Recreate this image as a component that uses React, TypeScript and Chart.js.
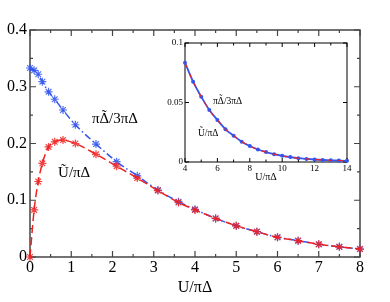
import React, { useEffect, useRef } from "react";
import { Chart, registerables } from "chart.js";

Chart.register(...registerables);

// ---- main panel data ----
const mainU = [0, 0.1, 0.2, 0.3, 0.45, 0.6, 0.8, 1.1, 1.6, 2.1, 2.6, 3.1, 3.6, 4, 4.5, 5, 5.5, 6, 6.5, 7, 7.5, 8];
const deltaRatio = [0.333, 0.329, 0.322, 0.309, 0.291, 0.278, 0.259, 0.233, 0.199, 0.168, 0.143, 0.118, 0.0975, 0.084, 0.068, 0.055, 0.0446, 0.0347, 0.0287, 0.0224, 0.018, 0.014];
const uRatio = [0, 0.083, 0.133, 0.165, 0.194, 0.203, 0.206, 0.2, 0.181, 0.16, 0.139, 0.117, 0.096, 0.083, 0.068, 0.055, 0.0446, 0.0347, 0.0287, 0.0224, 0.018, 0.014];

// ---- inset data ----
const insetU = [4, 4.5, 5, 5.5, 6, 6.5, 7, 7.5, 8, 8.5, 9, 9.5, 10, 10.5, 11, 11.5, 12, 12.5, 13, 13.5, 14];
const insetDelta = [0.0834, 0.0675, 0.0549, 0.0437, 0.0353, 0.0275, 0.0221, 0.0171, 0.0134, 0.0105, 0.0083, 0.0066, 0.0052, 0.0041, 0.0032, 0.0026, 0.0021, 0.0017, 0.0014, 0.0012, 0.001];
const insetURatio = [0.0834, 0.0675, 0.0549, 0.0437, 0.0353, 0.0275, 0.0221, 0.0171, 0.0134, 0.0105, 0.0083, 0.0066, 0.0052, 0.0041, 0.0032, 0.0026, 0.0021, 0.0017, 0.0014, 0.0012, 0.001];

const xTitle = "U/πΔ";
const labelDelta = "πΔ\u0303/3πΔ";
const labelU = "U\u0303/πΔ";

const BLUE = "#3355ee";
const RED = "#ee2222";
const FONT = "'Liberation Serif', 'Times New Roman', serif";

const pts = (xs: number[], ys: number[]) => xs.map((x, i) => ({ x, y: ys[i] }));

// draws text char by char, rendering a combining tilde (U+0303) as a tilde above the previous char
function drawTildeText(ctx: CanvasRenderingContext2D, text: string, x: number, y: number, size: number) {
  const chars = Array.from(text);
  let cx = x;
  for (let i = 0; i < chars.length; i++) {
    const c = chars[i];
    if (c === "\u0303") continue;
    const w = ctx.measureText(c).width;
    ctx.textAlign = "left";
    ctx.fillText(c, cx, y);
    if (chars[i + 1] === "\u0303") {
      ctx.textAlign = "center";
      ctx.fillText("\u02DC", cx + w / 2, y - size * 0.2);
      ctx.textAlign = "left";
    }
    cx += w;
  }
}

const frameTicks = {
  id: "frameTicks",
  beforeDatasetsDraw(chart: any, _a: any, opts: any) {
    const { ctx, chartArea: a, scales } = chart;
    const xs = scales.x;
    const ys = scales.y;
    ctx.save();
    ctx.strokeStyle = opts.color;
    ctx.lineWidth = opts.lineWidth;
    ctx.strokeRect(a.left, a.top, a.right - a.left, a.bottom - a.top);
    ctx.lineWidth = opts.tickWidth;
    ctx.beginPath();
    const xMaj = xs.ticks.map((t: any) => t.value);
    const yMaj = ys.ticks.map((t: any) => t.value);
    const n1 = Math.round((xs.max - xs.min) / opts.xMinor);
    for (let i = 0; i <= n1; i++) {
      const v = xs.min + i * opts.xMinor;
      const len = xMaj.some((m: number) => Math.abs(m - v) < 1e-6) ? opts.major : opts.minor;
      const p = xs.getPixelForValue(v);
      ctx.moveTo(p, a.bottom);
      ctx.lineTo(p, a.bottom - len);
      ctx.moveTo(p, a.top);
      ctx.lineTo(p, a.top + len);
    }
    const n2 = Math.round((ys.max - ys.min) / opts.yMinor);
    for (let i = 0; i <= n2; i++) {
      const v = ys.min + i * opts.yMinor;
      const len = yMaj.some((m: number) => Math.abs(m - v) < 1e-6) ? opts.major : opts.minor;
      const p = ys.getPixelForValue(v);
      ctx.moveTo(a.left, p);
      ctx.lineTo(a.left + len, p);
      ctx.moveTo(a.right, p);
      ctx.lineTo(a.right - len, p);
    }
    ctx.stroke();
    ctx.fillStyle = "#000";
    ctx.textBaseline = "alphabetic";
    for (const l of opts.labels || []) {
      ctx.font = `${l.size}px ${FONT}`;
      drawTildeText(ctx, l.text, xs.getPixelForValue(l.x), ys.getPixelForValue(l.y), l.size);
    }
    ctx.restore();
  },
};

export default function App() {
  const mainRef = useRef<HTMLCanvasElement>(null);
  const insetRef = useRef<HTMLCanvasElement>(null);

  useEffect(() => {
    document.body.style.margin = "0";
    const main = new Chart(mainRef.current!, {
      type: "line",
      data: {
        datasets: [
          {
            label: labelU,
            data: pts(mainU, uRatio),
            borderColor: RED,
            backgroundColor: RED,
            borderWidth: 1.5,
            borderDash: [8, 4],
            pointStyle: "star",
            pointRadius: 4,
            pointBorderWidth: 1.2,
            pointBorderColor: "rgba(238,34,34,0.85)",
            cubicInterpolationMode: "monotone",
            clip: false,
          },
          {
            label: labelDelta,
            data: pts(mainU, deltaRatio),
            borderColor: BLUE,
            backgroundColor: BLUE,
            borderWidth: 1.5,
            borderDash: [7, 3, 1.5, 3],
            pointStyle: "star",
            pointRadius: 4,
            pointBorderWidth: 1.2,
            pointBorderColor: "rgba(51,85,238,0.85)",
            cubicInterpolationMode: "monotone",
            clip: false,
          },
        ],
      },
      options: {
        responsive: false,
        animation: false,
        devicePixelRatio: 1,
        layout: { padding: { top: 30, right: 30, left: 0, bottom: 0 } },
        plugins: {
          legend: { display: false },
          tooltip: { enabled: false },
          frameTicks: {
            color: "#444",
            lineWidth: 1.5,
            tickWidth: 1.2,
            major: 6,
            minor: 3,
            xMinor: 0.5,
            yMinor: 0.05,
            labels: [
              { text: labelDelta, x: 1.5, y: 0.236, size: 15 },
              { text: labelU, x: 0.68, y: 0.141, size: 15 },
            ],
          },
        } as any,
        scales: {
          x: {
            type: "linear",
            min: 0,
            max: 8,
            border: { display: false },
            grid: { display: false, drawTicks: false },
            ticks: { stepSize: 1, padding: 1, color: "#000", font: { family: FONT, size: 16 } },
            title: { display: true, text: xTitle, color: "#000", font: { family: FONT, size: 16 }, padding: { top: 0, bottom: 5 } },
            afterFit: (s: any) => { s.height = 45; },
          },
          y: {
            type: "linear",
            min: 0,
            max: 0.4,
            border: { display: false },
            grid: { display: false, drawTicks: false },
            ticks: {
              stepSize: 0.1,
              padding: 3,
              color: "#000",
              font: { family: FONT, size: 16 },
              callback: (v: any) => (v === 0 ? "0" : Number(v).toFixed(1)),
            },
            afterFit: (s: any) => { s.width = 30; },
          },
        },
      },
      plugins: [frameTicks],
    });

    const inset = new Chart(insetRef.current!, {
      type: "line",
      data: {
        datasets: [
          {
            label: labelDelta,
            data: pts(insetU, insetDelta),
            borderColor: BLUE,
            backgroundColor: BLUE,
            borderWidth: 1.8,
            pointStyle: "circle",
            pointRadius: 2,
            pointBorderWidth: 0,
            cubicInterpolationMode: "monotone",
            clip: false,
            order: 1,
          },
          {
            label: labelU,
            data: pts(insetU, insetURatio),
            borderColor: RED,
            borderWidth: 1.1,
            borderDash: [5, 6],
            pointRadius: 0,
            cubicInterpolationMode: "monotone",
            clip: false,
            order: 0,
          },
        ],
      },
      options: {
        responsive: false,
        animation: false,
        devicePixelRatio: 1,
        layout: { padding: { top: 13, right: 8, left: 0, bottom: 0 } },
        plugins: {
          legend: { display: false },
          tooltip: { enabled: false },
          frameTicks: {
            color: "#000",
            lineWidth: 1,
            tickWidth: 1,
            major: 4,
            minor: 2.5,
            xMinor: 1,
            yMinor: 0.05,
            labels: [
              { text: labelDelta, x: 5.73, y: 0.0487, size: 9.5 },
              { text: labelU, x: 4.8, y: 0.0218, size: 9.5 },
            ],
          },
        } as any,
        scales: {
          x: {
            type: "linear",
            min: 4,
            max: 14,
            border: { display: false },
            grid: { display: false, drawTicks: false },
            ticks: { stepSize: 2, padding: 1, color: "#000", maxRotation: 0, font: { family: FONT, size: 9 } },
            title: { display: true, text: xTitle, color: "#000", font: { family: FONT, size: 10 }, padding: { top: 0, bottom: 2 } },
            afterFit: (s: any) => { s.height = 23; },
          },
          y: {
            type: "linear",
            min: 0,
            max: 0.1,
            border: { display: false },
            grid: { display: false, drawTicks: false },
            ticks: {
              stepSize: 0.05,
              padding: 2,
              color: "#000",
              font: { family: FONT, size: 9 },
              callback: (v: any) => (v === 0 ? "0" : String(Math.round(v * 100) / 100)),
            },
            afterFit: (s: any) => { s.width = 35; },
          },
        },
      },
      plugins: [frameTicks],
    });

    return () => {
      main.destroy();
      inset.destroy();
    };
  }, []);

  return (
    <div style={{ position: "relative", width: 390, height: 302, background: "#fff" }}>
      <canvas ref={mainRef} width={390} height={302} style={{ position: "absolute", left: 0, top: 0, width: 390, height: 302 }} />
      <canvas ref={insetRef} width={205} height={155} style={{ position: "absolute", left: 150, top: 30, width: 205, height: 155 }} />
    </div>
  );
}
